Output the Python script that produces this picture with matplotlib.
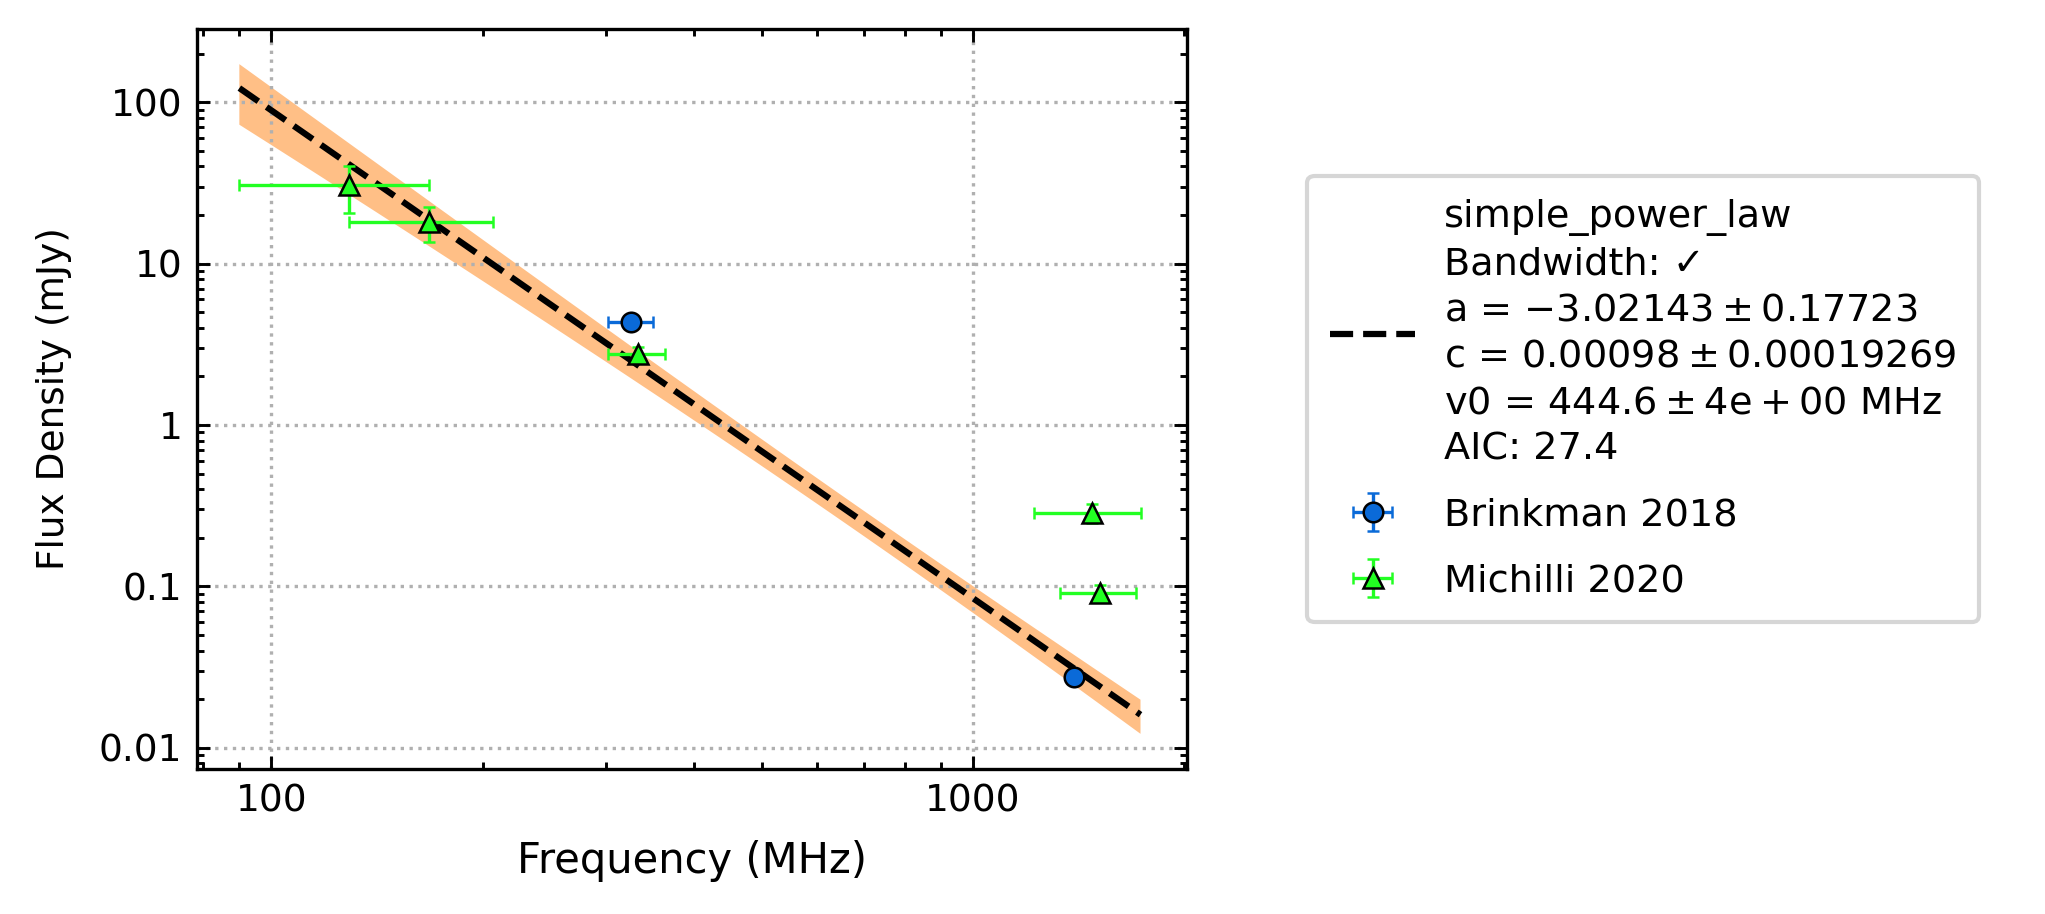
import numpy as np
import matplotlib
matplotlib.use("Agg")
import matplotlib.pyplot as plt
from matplotlib.ticker import LogLocator, NullFormatter, FixedLocator, FixedFormatter

# Brinkman 2018 (MHz, mJy)
brinkman_freq = [326.0, 1393.0]
brinkman_freq_err = [24.5, 10.0]
brinkman_flux = [4.34, 0.0273]
brinkman_flux_err = [0.3, 0.002]

# Michilli 2020 (MHz, mJy)
michilli_freq = [129.0, 168.0, 333.0, 1478.0, 1520.0]
michilli_freq_err = [39.0, 39.0, 31.5, 256.0, 190.0]
michilli_flux = [30.5, 18.0, 2.75, 0.286, 0.0917]
michilli_flux_err = [10.0, 4.3, 0.3, 0.039, 0.011]

# simple_power_law fit parameters
fit_a, fit_a_err = -3.02143, 0.17723
fit_c, fit_c_err = 0.00098, 0.00019269  # Jy
fit_v0 = 444.6
fit_rho = -0.42
fit_range = [90.0, 1734.0]

fit_label = ("simple_power_law\n"
             "Bandwidth: \u2713\n"
             "a = $-3.02143 \\pm 0.17723$\n"
             "c = $0.00098 \\pm 0.00019269$\n"
             "v0 = $444.6 \\pm 4\\mathrm{e}+00$ MHz\n"
             "AIC: 27.4")

plt.rcParams["font.size"] = 9

fig = plt.figure(figsize=(2045 / 300, 914 / 300), dpi=300)
ax = fig.add_axes([0.0963, 0.159, 0.4840, 0.809])

# 拟合曲线和误差带
freq = np.logspace(np.log10(fit_range[0]), np.log10(fit_range[1]), 200)
ratio = np.log(freq / fit_v0)
model = fit_c * (freq / fit_v0) ** fit_a * 1e3
rel_err = np.sqrt((fit_c_err / fit_c) ** 2 + (ratio * fit_a_err) ** 2
                  + 2 * ratio * fit_rho * fit_a_err * fit_c_err / fit_c)
ax.fill_between(freq, model * (1 - rel_err), model * (1 + rel_err),
                facecolor="#ffbf86", edgecolor="none", zorder=1)
ax.plot(freq, model, "k--", lw=1.5, label=fit_label, zorder=2)

ax.errorbar(brinkman_freq, brinkman_flux, xerr=brinkman_freq_err, yerr=brinkman_flux_err,
            fmt="o", color="#0a6ad8", ecolor="#0a6ad8", mec="black", mew=0.6, ms=4.7,
            elinewidth=0.8, capsize=1.5, capthick=0.8, label="Brinkman 2018", zorder=3)
ax.errorbar(michilli_freq, michilli_flux, xerr=michilli_freq_err, yerr=michilli_flux_err,
            fmt="^", color="#22ff22", ecolor="#22ff22", mec="black", mew=0.6, ms=5,
            elinewidth=0.8, capsize=1.5, capthick=0.8, label="Michilli 2020", zorder=3)

ax.set_xscale("log")
ax.set_yscale("log")
ax.set_xlim(78.3, 2018)
ax.set_ylim(0.00743, 283)

ax.xaxis.set_major_locator(FixedLocator([100, 1000]))
ax.xaxis.set_major_formatter(FixedFormatter(["100", "1000"]))
ax.xaxis.set_minor_locator(LogLocator(base=10, subs=np.arange(2, 10), numticks=20))
ax.xaxis.set_minor_formatter(NullFormatter())
ax.yaxis.set_major_locator(FixedLocator([0.01, 0.1, 1, 10, 100]))
ax.yaxis.set_major_formatter(FixedFormatter(["0.01", "0.1", "1", "10", "100"]))
ax.yaxis.set_minor_locator(LogLocator(base=10, subs=np.arange(2, 10), numticks=20))
ax.yaxis.set_minor_formatter(NullFormatter())

ax.tick_params(which="both", direction="in", top=True, right=True, width=0.7)
ax.tick_params(which="major", length=3.2)
ax.tick_params(which="minor", length=1.6)
for s in ax.spines.values():
    s.set_linewidth(0.8)
ax.grid(True, which="major", ls=":", color="#b0b0b0", lw=0.8)

ax.set_xlabel("Frequency (MHz)", fontsize=10, labelpad=5)
ax.set_ylabel("Flux Density (mJy)", labelpad=6.5)

leg = ax.legend(loc="center left", bbox_to_anchor=(1.122, 0.5), borderaxespad=0,
                handlelength=2.2, handletextpad=0.76, labelspacing=0.78, borderpad=0.6,
                fontsize=9.2)
leg.get_texts()[0].set_linespacing(1.37)

fig.savefig("out.png", dpi=300)
